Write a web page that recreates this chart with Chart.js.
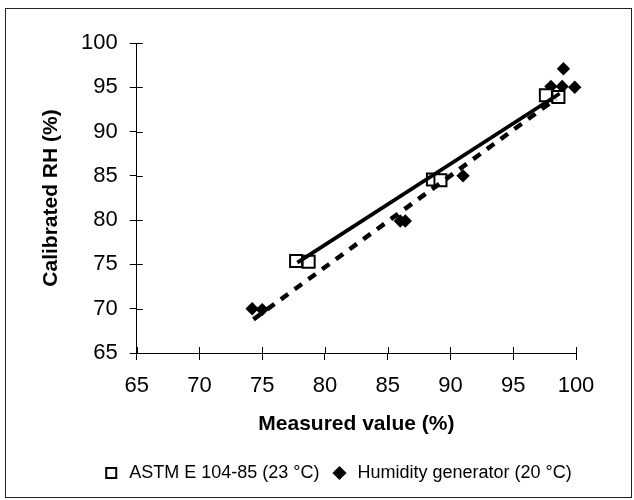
<!DOCTYPE html>
<html>
<head>
<meta charset="utf-8">
<script src="https://cdn.jsdelivr.net/npm/chart.js@4"></script>
<style>
html, body { margin: 0; padding: 0; background: #fff; }
#wrap { width: 634px; height: 500px; }
</style>
</head>
<body>
<div id="wrap"><canvas id="rhChart" width="634" height="500"></canvas></div>
<script>
// ASTM E 104-85 points (two squares per level)
const astmX = [77.7, 78.7, 88.6, 89.2, 97.6, 98.6];
const astmY = [75.4, 75.3, 84.6, 84.5, 94.1, 93.9];

// humidity generator points
const genX = [74.2, 75.0, 86.0, 86.4, 91.0, 98.0, 98.9, 99.0, 99.9];
const genY = [70.0, 69.9, 79.9, 79.9, 85.0, 95.1, 95.1, 97.1, 95.0];

// trend lines, end points
const astmFitX = [77.8, 98.7];
const astmFitY = [75.2, 94.3];
const genFitX = [74.3, 98.4];
const genFitY = [68.8, 93.7];

const axisMin = 65;
const axisMax = 100;
const axisStep = 5;

const FONT = "'Liberation Sans', Arial, sans-serif";

function toPoints(xs, ys) {
    return xs.map((x, i) => ({ x: x, y: ys[i] }));
}

// white page + thin frame
const framePlugin = {
    id: "frame",
    beforeDraw(chart) {
        const ctx = chart.ctx;
        ctx.save();
        ctx.fillStyle = "#fff";
        ctx.fillRect(0, 0, chart.width, chart.height);
        ctx.strokeStyle = "#222";
        ctx.lineWidth = 1;
        ctx.strokeRect(5.5, 8.5, 626, 489);
        ctx.restore();
    }
};

// tick marks also cross into the plot area
const innerTicks = {
    id: "innerTicks",
    afterDraw(chart) {
        const ctx = chart.ctx;
        const xs = chart.scales.x;
        const ys = chart.scales.y;
        const area = chart.chartArea;
        ctx.save();
        ctx.strokeStyle = "#000";
        ctx.lineWidth = 1;
        ctx.beginPath();
        xs.ticks.forEach(t => {
            const px = Math.round(xs.getPixelForValue(t.value)) + 0.5;
            ctx.moveTo(px, area.bottom);
            ctx.lineTo(px, area.bottom - 6);
        });
        ys.ticks.forEach(t => {
            const py = Math.round(ys.getPixelForValue(t.value)) + 0.5;
            ctx.moveTo(area.left, py);
            ctx.lineTo(area.left + 6, py);
        });
        ctx.stroke();
        ctx.restore();
    }
};

// legend sits a bit right of the canvas centre
const legendShift = {
    id: "legendShift",
    afterLayout(chart) {
        const lg = chart.legend;
        if (lg) {
            lg.left += 34;
            lg.right += 34;
        }
    }
};

const rhChart = new Chart(document.getElementById("rhChart"), {
    type: "scatter",
    data: {
        datasets: [
            {
                label: "ASTM E 104-85 (23 °C)",
                data: toPoints(astmX, astmY),
                pointStyle: "rect",
                pointRadius: 8.5,
                pointBorderWidth: 2,
                pointBackgroundColor: "#fff",
                pointBorderColor: "#000",
                backgroundColor: "#fff",
                borderColor: "#000",
                borderWidth: 2,
                clip: false,
                order: 2
            },
            {
                label: "Humidity generator (20 °C)",
                data: toPoints(genX, genY),
                pointStyle: "rectRot",
                pointRadius: 6.7,
                pointBorderWidth: 0,
                pointBackgroundColor: "#000",
                pointBorderColor: "#000",
                backgroundColor: "#000",
                borderColor: "#000",
                borderWidth: 0,
                clip: false,
                order: 2
            },
            {
                label: "astm fit",
                data: toPoints(astmFitX, astmFitY),
                showLine: true,
                pointRadius: 0,
                borderColor: "#000",
                borderWidth: 3.8,
                order: 1
            },
            {
                label: "generator fit",
                data: toPoints(genFitX, genFitY),
                showLine: true,
                pointRadius: 0,
                borderColor: "#000",
                borderWidth: 4.5,
                borderDash: [9, 8],
                order: 1
            }
        ]
    },
    options: {
        responsive: false,
        animation: false,
        layout: {
            padding: { left: 30, right: 58, top: 43, bottom: 8 }
        },
        scales: {
            x: {
                type: "linear",
                min: axisMin,
                max: axisMax,
                ticks: {
                    stepSize: axisStep,
                    color: "#000",
                    padding: 13,
                    font: { family: FONT, size: 22 }
                },
                grid: {
                    drawOnChartArea: false,
                    drawTicks: true,
                    tickLength: 7,
                    color: "#000"
                },
                border: { display: true, color: "#000", width: 1 },
                title: {
                    display: true,
                    text: "Measured value (%)",
                    color: "#000",
                    font: { family: FONT, size: 21, weight: "bold" },
                    padding: { top: 0, bottom: 16 }
                },
                afterFit(scale) {
                    scale.height = 100;
                }
            },
            y: {
                type: "linear",
                min: axisMin,
                max: axisMax,
                ticks: {
                    stepSize: axisStep,
                    color: "#000",
                    padding: 12,
                    font: { family: FONT, size: 22 }
                },
                grid: {
                    drawOnChartArea: false,
                    drawTicks: true,
                    tickLength: 7,
                    color: "#000"
                },
                border: { display: true, color: "#000", width: 1 },
                title: {
                    display: true,
                    text: "Calibrated RH (%)",
                    color: "#000",
                    font: { family: FONT, size: 21, weight: "bold" },
                    padding: { top: 9, bottom: 0 }
                },
                afterFit(scale) {
                    scale.width = 106.7;
                }
            }
        },
        plugins: {
            legend: {
                position: "bottom",
                labels: {
                    usePointStyle: true,
                    boxHeight: 10,
                    color: "#000",
                    padding: 11,
                    font: { family: FONT, size: 18 },
                    filter: item => item.datasetIndex < 2,
                    sort: (a, b) => a.datasetIndex - b.datasetIndex
                }
            },
            tooltip: { enabled: false }
        }
    },
    plugins: [framePlugin, innerTicks, legendShift]
});
</script>
</body>
</html>
